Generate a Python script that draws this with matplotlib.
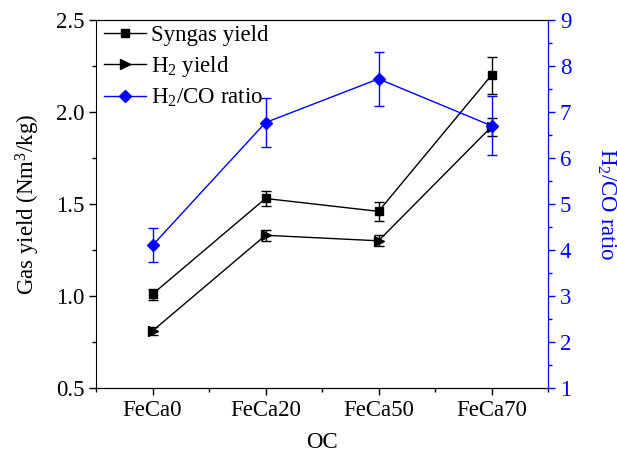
import matplotlib
matplotlib.use("Agg")
import matplotlib.pyplot as plt
from matplotlib.lines import Line2D
import numpy as np

plt.rcParams['font.family'] = ['Liberation Serif', 'DejaVu Serif']
plt.rcParams['mathtext.fontset'] = 'custom'
plt.rcParams['mathtext.rm'] = 'Liberation Serif'
plt.rcParams['mathtext.it'] = 'Liberation Serif:italic'

categories = ["FeCa0", "FeCa20", "FeCa50", "FeCa70"]
syngas = [1.01, 1.53, 1.46, 2.20]
syngas_err = [0.03, 0.04, 0.05, 0.10]
h2 = [0.81, 1.33, 1.30, 1.92]
h2_err = [0.02, 0.03, 0.03, 0.05]
ratio = [4.10, 6.77, 7.72, 6.70]
ratio_err = [0.37, 0.53, 0.58, 0.64]

blue = '#0000ff'
fs = 16.5
fig = plt.figure(figsize=(6.17, 4.55), dpi=100)
ax = fig.add_axes([96/617, 1-388/455, (548-96)/617, (388-20)/455])
ax2 = ax.twinx()
x = np.arange(len(categories))

ax.errorbar(x, syngas, yerr=syngas_err, color='black', marker='s', ms=6, lw=1,
            capsize=3.5, elinewidth=1, capthick=1)
ax.errorbar(x, h2, yerr=h2_err, color='black', marker='>', ms=7, lw=1,
            capsize=3.5, elinewidth=1, capthick=1)
ax2.errorbar(x, ratio, yerr=ratio_err, color=blue, marker='D', ms=6, lw=1,
             capsize=3.5, elinewidth=1, capthick=1)

ax.set_xlim(-0.5, 3.5)
ax.set_ylim(0.5, 2.5)
ax.set_yticks([0.5, 1.0, 1.5, 2.0, 2.5])
ax.set_yticklabels(['0.5', '1.0', '1.5', '2.0', '2.5'])
ax.set_yticks(np.arange(0.75, 2.5, 0.5), minor=True)
ax.set_xticks(x)
ax.set_xticklabels(categories)
ax.set_xticks([-0.5, 0.5, 1.5, 2.5, 3.5], minor=True)
ax2.set_ylim(1, 9)
ax2.set_yticks(range(1, 10))
ax2.set_yticks(np.arange(1.5, 9, 1), minor=True)

ax.tick_params(axis='both', which='major', direction='out', length=5, labelsize=fs, width=1)
ax.tick_params(axis='both', which='minor', direction='out', length=3, width=1)
ax2.tick_params(axis='y', which='major', direction='out', length=5, labelsize=fs,
                colors=blue, width=1)
ax2.tick_params(axis='y', which='minor', direction='out', length=3, colors=blue, width=1)

ax.set_xlabel('OC', fontsize=fs, labelpad=8)
ax.set_ylabel('Gas yield (Nm$^3$/kg)', fontsize=fs, labelpad=10)
ax2.set_ylabel('H$_2$/CO ratio', fontsize=fs, color=blue, rotation=270, labelpad=33)
ax2.spines['right'].set_color(blue)
ax2.spines['left'].set_visible(False)

handles = [
    Line2D([], [], color='black', marker='s', ms=6, lw=1),
    Line2D([], [], color='black', marker='>', ms=7, lw=1),
    Line2D([], [], color=blue, marker='D', ms=6, lw=1),
]
ax.legend(handles, ['Syngas yield', 'H$_2$ yield', 'H$_2$/CO ratio'],
          loc='upper left', frameon=False, fontsize=fs, handlelength=1.85,
          borderaxespad=0.2, labelspacing=0.35, handletextpad=0.2,
          bbox_to_anchor=(-0.013, 1.025))

fig.savefig('out.png', dpi=100)
